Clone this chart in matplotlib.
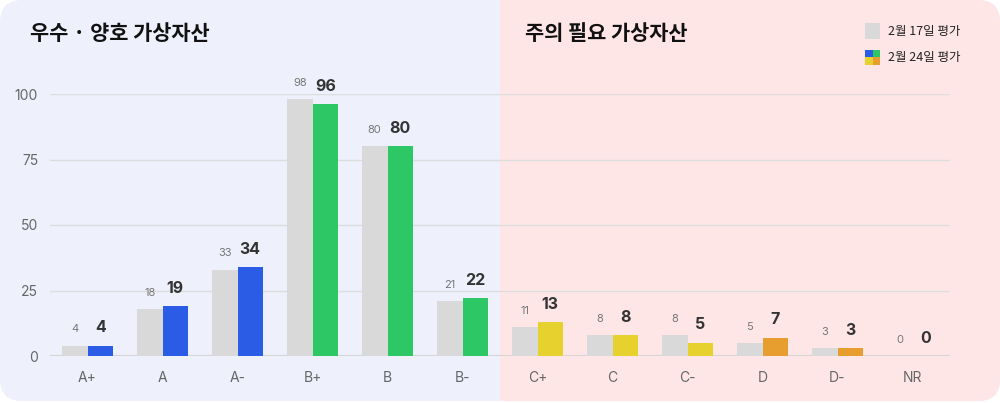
import matplotlib
matplotlib.use("Agg")
import matplotlib.pyplot as plt
import numpy as np
from matplotlib.patches import FancyBboxPatch, Rectangle

plt.rcParams['font.family'] = ['Inter', 'Noto Sans CJK KR', 'DejaVu Sans']
KR = ['Noto Sans CJK KR', 'DejaVu Sans']

categories = ["A+", "A", "A-", "B+", "B", "B-", "C+", "C", "C-", "D", "D-", "NR"]
prev_values = [4, 18, 33, 98, 80, 21, 11, 8, 8, 5, 3, 0]
curr_values = [4, 19, 34, 96, 80, 22, 13, 8, 5, 7, 3, 0]
curr_colors = ["#2B5CE6", "#2B5CE6", "#2B5CE6", "#2EC766", "#2EC766", "#2EC766",
               "#E6D12E", "#E6D12E", "#E6D12E", "#E89E2E", "#E89E2E", "#E89E2E"]
yticks = [0, 25, 50, 75, 100]
title_left = "우수 · 양호 가상자산"
title_right = "주의 필요 가상자산"
legend_labels = ["2월 17일 평가", "2월 24일 평가"]

W, H = 1000, 403
fig = plt.figure(figsize=(W / 100, H / 100), dpi=100)
fig.patch.set_facecolor("white")

# background rounded panel split in two colours
bg = FancyBboxPatch((0.0, 2 / H), 1.0, 1.0 - 2 / H,
                    boxstyle="round,pad=0,rounding_size=0.022",
                    transform=fig.transFigure, facecolor="#EEF0FC",
                    edgecolor="none", mutation_aspect=W / H, zorder=0)
fig.patches.append(bg)
right = Rectangle((0.5, 0), 0.5, 1, transform=fig.transFigure,
                  facecolor="#FFE6E6", edgecolor="none", zorder=0.5)
right.set_clip_path(bg)
fig.patches.append(right)

ax = fig.add_axes([0.05, (H - 356) / H, 0.9, 262 / H])
ax.set_zorder(5)
ax.set_facecolor("none")
x = np.arange(len(categories))
bw = 0.34
ax.bar(x - bw / 2, prev_values, width=bw, color="#D9D9D9", zorder=3)
ax.bar(x + bw / 2, curr_values, width=bw, color=curr_colors, zorder=3)

for xi, pv, cv in zip(x, prev_values, curr_values):
    ax.annotate(str(pv), (xi - bw / 2, pv), xytext=(0, 8), textcoords="offset points",
                ha="center", va="bottom", fontsize=8, color="#777777", annotation_clip=False)
    ax.annotate(str(cv), (xi + bw / 2, cv), xytext=(0, 7.5), textcoords="offset points",
                ha="center", va="bottom", fontsize=11.5, fontweight="bold", color="#333333",
                annotation_clip=False)

ax.set_xlim(-0.5, len(categories) - 0.5)
ax.set_ylim(0, 100)
ax.set_yticks(yticks)
ax.set_xticks(x)
ax.set_xticklabels(categories)
ax.tick_params(axis="both", length=0, colors="#666666", labelsize=10)
ax.tick_params(axis="x", pad=11)
ax.tick_params(axis="y", pad=8.5)
for s in ax.spines.values():
    s.set_visible(False)
ax.grid(axis="y", color="#DDDDDD", linewidth=1, zorder=1)
ax.axhline(0, color="#D5D5D5", linewidth=1.5, zorder=2)

fig.text(30 / W, 1 - 33 / H, title_left, fontsize=15, fontweight="bold",
         color="#111111", ha="left", va="center", family=KR)
fig.text(525 / W, 1 - 33 / H, title_right, fontsize=15, fontweight="bold",
         color="#111111", ha="left", va="center", family=KR)

# legend
sq = 15
lx, ly1, ly2 = 865, 31, 57
fig.patches.append(Rectangle((lx / W, 1 - (ly1 + sq / 2) / H), sq / W, sq / H,
                             transform=fig.transFigure, facecolor="#D9D9D9", edgecolor="none", zorder=2))
quad = [("#2B5CE6", 0, 0), ("#2EC766", 1, 0), ("#E6D12E", 0, 1), ("#E89E2E", 1, 1)]
for c, i, j in quad:
    fig.patches.append(Rectangle(((lx + i * sq / 2) / W, 1 - (ly2 - sq / 2 + (j + 1) * sq / 2) / H),
                                 sq / 2 / W, sq / 2 / H, transform=fig.transFigure,
                                 facecolor=c, edgecolor="none", zorder=2))
fig.text(888 / W, 1 - ly1 / H, legend_labels[0], fontsize=9, color="#222222",
         ha="left", va="center", family=KR)
fig.text(888 / W, 1 - ly2 / H, legend_labels[1], fontsize=9, color="#222222",
         ha="left", va="center", family=KR)

fig.savefig("out.png", dpi=100, facecolor=fig.get_facecolor())
